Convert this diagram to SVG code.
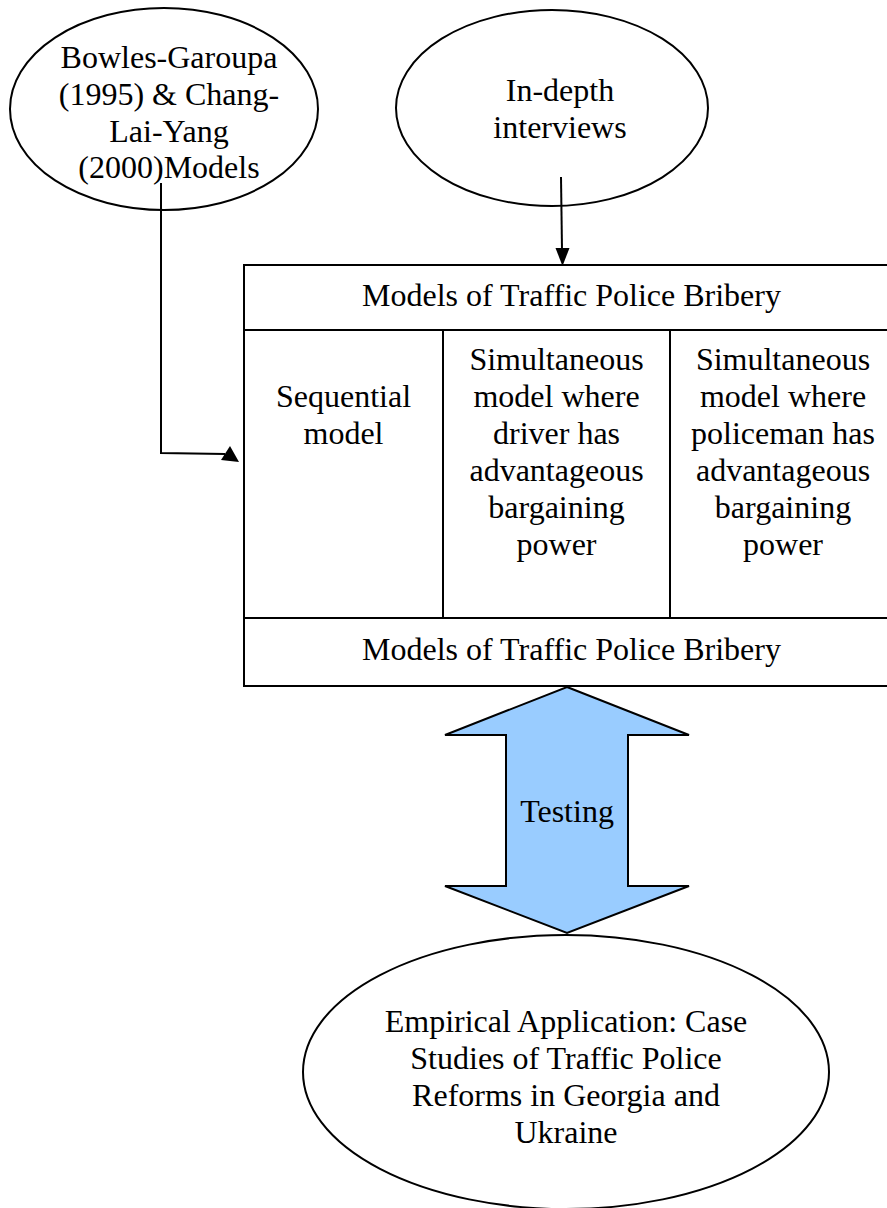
<svg xmlns="http://www.w3.org/2000/svg" width="887" height="1208" viewBox="0 0 887 1208">
<style>
text{font-family:"Liberation Serif","Times New Roman",serif;font-size:32px;fill:#000;text-anchor:middle}
.shape{fill:#fff;stroke:#000;stroke-width:2}
.line{fill:none;stroke:#000;stroke-width:2}
.head{fill:#000;stroke:none}
</style>
<rect width="887" height="1208" fill="#fff"/>
<g id="node-theory">
<ellipse class="shape" cx="164" cy="109" rx="154" ry="101"/>
<text x="169" y="68">Bowles-Garoupa</text>
<text x="169" y="105">(1995) &amp; Chang-</text>
<text x="169" y="141.5">Lai-Yang</text>
<text x="169" y="178">(2000)Models</text>
</g>
<g id="node-interviews">
<ellipse class="shape" cx="552" cy="108" rx="156" ry="98"/>
<text x="560" y="101">In-depth</text>
<text x="560" y="138">interviews</text>
</g>
<g id="node-table">
<rect class="shape" x="244" y="265" width="655" height="421"/>
<line class="line" x1="244" y1="330" x2="899" y2="330"/>
<line class="line" x1="244" y1="618" x2="899" y2="618"/>
<line class="line" x1="443" y1="330" x2="443" y2="618"/>
<line class="line" x1="670" y1="330" x2="670" y2="618"/>
<text x="571.5" y="306">Models of Traffic Police Bribery</text>
<text x="343.5" y="407">Sequential</text>
<text x="343.5" y="443.5">model</text>
<text x="556.5" y="369.5">Simultaneous</text>
<text x="556.5" y="406.5">model where</text>
<text x="556.5" y="443.5">driver has</text>
<text x="556.5" y="480.5">advantageous</text>
<text x="556.5" y="517.5">bargaining</text>
<text x="556.5" y="554.5">power</text>
<text x="783" y="369.5">Simultaneous</text>
<text x="783" y="406.5">model where</text>
<text x="783" y="443.5">policeman has</text>
<text x="783" y="480.5">advantageous</text>
<text x="783" y="517.5">bargaining</text>
<text x="783" y="554.5">power</text>
<text x="571.5" y="660">Models of Traffic Police Bribery</text>
</g>
<g id="node-testing">
<polygon points="567,687 689,735 628,735 628,886 689,886 567,933 445,886 506,886 506,735 445,735" fill="#99ccff" stroke="#000" stroke-width="2" stroke-linejoin="miter"/>
<text x="567" y="822">Testing</text>
</g>
<g id="node-empirical">
<ellipse class="shape" cx="566" cy="1072" rx="263" ry="137"/>
<text x="566" y="1032">Empirical Application: Case</text>
<text x="566" y="1069">Studies of Traffic Police</text>
<text x="566" y="1106">Reforms in Georgia and</text>
<text x="566" y="1143">Ukraine</text>
</g>
<g id="connectors">
<polyline class="line" points="161,183 161,453 225,454"/>
<polygon class="head" points="221,460 230,446 239,462"/>
<line class="line" x1="561" y1="177" x2="562" y2="250"/>
<polygon class="head" points="555.5,248 569.5,248 562.5,266"/>
</g>
</svg>
